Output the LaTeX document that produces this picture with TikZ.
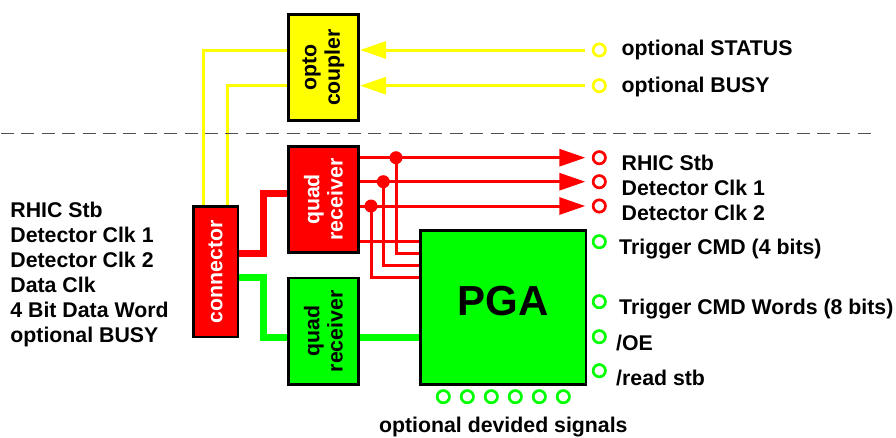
\documentclass[tikz,border=0pt]{standalone}
\usepackage{fontspec}
\setmainfont{Liberation Sans}
\usetikzlibrary{arrows.meta}
\pgfdeclarelayer{bg}
\pgfsetlayers{bg,main}
\definecolor{cyel}{RGB}{255,255,0}
\definecolor{cred}{RGB}{255,0,0}
\definecolor{cgrn}{RGB}{0,255,0}
\definecolor{cdash}{RGB}{80,80,80}
\begin{document}
\begin{tikzpicture}[x=1pt,y=-1pt,
  box/.style={draw=black, line width=2.8pt, inner sep=0pt},
  lbl/.style={font=\bfseries\fontsize{21.3}{25}\selectfont, anchor=base west, inner sep=0pt},
  btxt/.style={font=\bfseries\fontsize{21.3}{23.4}\selectfont, rotate=90, align=center, inner sep=0pt},
  pin/.style={circle, draw=#1, line width=2.7pt, minimum size=12.3pt, inner sep=0pt},
  jdot/.style={circle, fill=cred, minimum size=13pt, inner sep=0pt},
  thinl/.style={line width=3pt},
  fatl/.style={line width=7pt},
  tri/.style={-{Triangle[length=26pt,width=17pt]}}
]
\useasboundingbox (0,0) rectangle (896,437);

% boxes
\node[box, fill=cyel, minimum width=70.5pt, minimum height=105.6pt] (opto) at (323.4,67.5) {};
\node[btxt, black] (optot) at (opto.center) {opto\\coupler};
\node[box, fill=cred, minimum width=70.5pt, minimum height=106.2pt] (rq) at (323.4,199.5) {};
\node[btxt, white] (rqt) at (rq.center) {quad\\receiver};
\node[box, fill=cgrn, minimum width=70.5pt, minimum height=106.5pt] (gq) at (323.4,331.3) {};
\node[btxt, black] (gqt) at (gq.center) {quad\\receiver};
\node[box, fill=cred, minimum width=44.8pt, minimum height=130.2pt] (conn) at (215.5,271.8) {};
\node[btxt, white] (connt) at (conn.center) {connector};
\node[box, fill=cgrn, minimum width=165.2pt, minimum height=154.2pt] (pga) at (503.3,307.5) {};
\node[font=\bfseries\fontsize{42}{42}\selectfont, anchor=base, inner sep=0pt] (pgat) at (503.3,315) {PGA};

% pins
\node[pin=cyel] (ys) at (599.3,50) {};
\node[pin=cyel] (yb) at (599.3,85.7) {};
\node[pin=cred] (r1) at (599.3,157.7) {};
\node[pin=cred] (r2) at (599.3,181.7) {};
\node[pin=cred] (r3) at (599.3,206) {};
\node[pin=cgrn] (g1) at (599.3,241.7) {};
\node[pin=cgrn] (g2) at (599.3,301.7) {};
\node[pin=cgrn] (g3) at (599.3,336.7) {};
\node[pin=cgrn] (g4) at (599.3,370.7) {};
\foreach \i in {0,...,5} {
  \node[pin=cgrn] (b\i) at (443.3+24*\i,396.7) {};
}

% junction dots
\node[jdot] (j1) at (396,157.7) {};
\node[jdot] (j2) at (383.3,181.7) {};
\node[jdot] (j3) at (371,206) {};

% dashed separator
\coordinate (dl) at (1,133.3);
\coordinate (dr) at (878,133.3);
\draw[cdash, line width=1.5pt, dash pattern=on 13pt off 7.4pt] (dl) -- (dr);

\begin{pgfonlayer}{bg}
  % yellow
  \draw[cyel, thinl, tri, shorten <=6.5pt] (ys) -- (opto.east |- ys);
  \draw[cyel, thinl, tri, shorten <=6.5pt] (yb) -- (opto.east |- yb);
  \draw[cyel, thinl] (opto.west |- ys) -| ([xshift=-12.2pt]conn.north);
  \draw[cyel, thinl] (opto.west |- yb) -| ([xshift=12.2pt]conn.north);
  % red outputs
  \draw[cred, thinl, tri, shorten >=6.5pt] (rq.east |- r1) -- (r1);
  \draw[cred, thinl, tri, shorten >=6.5pt] (rq.east |- r2) -- (r2);
  \draw[cred, thinl, tri, shorten >=6.5pt] (rq.east |- r3) -- (r3);
  \draw[cred, thinl] (j1.center) |- (pga.west |- 0,253.3);
  \draw[cred, thinl] (j2.center) |- (pga.west |- 0,265.7);
  \draw[cred, thinl] (j3.center) |- (pga.west |- 0,277.7);
  \draw[cred, thinl] (rq.east |- 0,241) -- (pga.west |- 0,241);
  % thick feeds
  \draw[cred, fatl] (conn.east |- 0,253.3) -| (263.7,193.3) -- (rq.west |- 0,193.3);
  \draw[cgrn, fatl] (conn.east |- 0,277.7) -| (263.7,337.7) -- (gq.west |- 0,337.7);
  \draw[cgrn, fatl] (gq.east |- 0,337.7) -- (pga.west |- 0,337.7);
\end{pgfonlayer}

% labels
\node[lbl] (lst) at (621.5,55.7) {optional STATUS};
\node[lbl] (lbu) at (621.5,92.3) {optional BUSY};
\node[lbl] (lr1) at (621.5,170) {RHIC Stb};
\node[lbl] (lr2) at (621.5,195) {Detector Clk 1};
\node[lbl] (lr3) at (621.5,220) {Detector Clk 2};
\node[lbl] (lg1) at (619,254.3) {Trigger CMD (4 bits)};
\node[lbl] (lg2) at (619,314.3) {Trigger CMD Words (8 bits)};
\node[lbl] (lg3) at (616,350) {/OE};
\node[lbl] (lg4) at (616,385) {/read stb};
\node[lbl, anchor=base] (lbot) at (503.3,432.5) {optional devided signals};
\node[lbl] (le1) at (10.2,217.7) {RHIC Stb};
\node[lbl] (le2) at (10.2,242.7) {Detector Clk 1};
\node[lbl] (le3) at (10.2,267.7) {Detector Clk 2};
\node[lbl] (le4) at (10.2,292.7) {Data Clk};
\node[lbl] (le5) at (10.2,317.7) {4 Bit Data Word};
\node[lbl] (le6) at (10.2,342.7) {optional BUSY};
\end{tikzpicture}
\end{document}
